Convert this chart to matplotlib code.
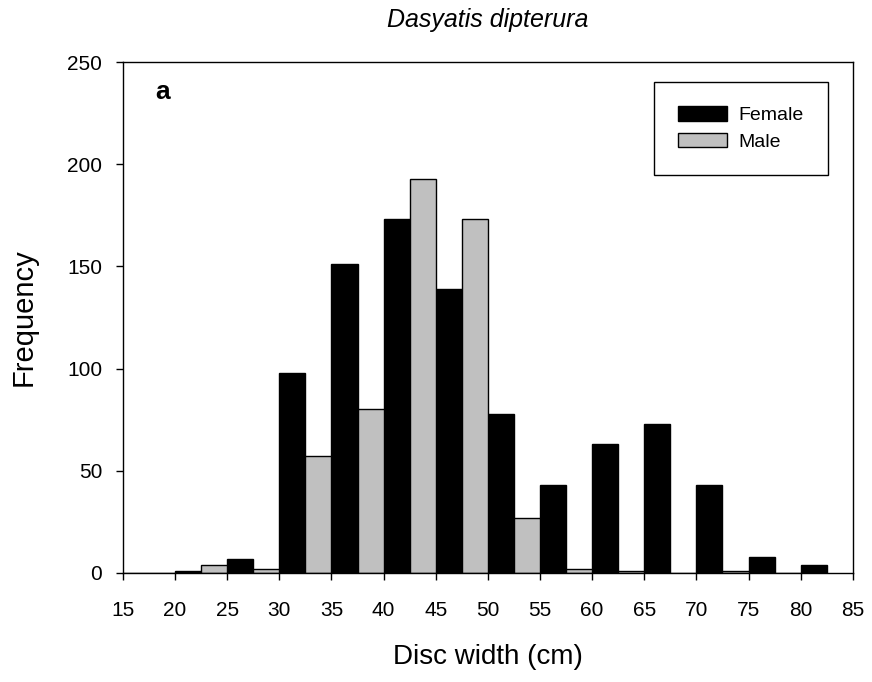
import matplotlib.pyplot as plt
import numpy as np

plt.rcParams['font.family'] = ['Liberation Sans', 'DejaVu Sans']

# bin starts (cm) and counts
female_x = [15, 20, 25, 30, 35, 40, 45, 50, 55, 60, 65, 70, 75, 80]
female_n = [0, 1, 7, 98, 151, 173, 139, 78, 43, 63, 73, 43, 8, 4]
male_x = [17.5, 22.5, 27.5, 32.5, 37.5, 42.5, 47.5, 52.5, 57.5, 62.5, 67.5, 72.5, 77.5]
male_n = [0, 4, 2, 57, 80, 193, 173, 27, 2, 1, 0, 1, 0]

xticks = list(range(15, 90, 5))
yticks = [0, 50, 100, 150, 200, 250]

fig = plt.figure(figsize=(8.72, 6.82), dpi=100)
ax = fig.add_axes([0.141, 0.160, 0.837, 0.749])

ax.bar(female_x, female_n, width=2.5, align='edge', color='black',
       edgecolor='black', linewidth=1, label='Female')
ax.bar(male_x, male_n, width=2.5, align='edge', color='#c0c0c0',
       edgecolor='black', linewidth=1, label='Male')

ax.set_xlim(15, 85)
ax.set_ylim(0, 250)
ax.set_xticks(xticks)
ax.set_yticks(yticks)
ax.tick_params(direction='out', length=5, width=1, labelsize=15, top=False, right=False)
ax.tick_params(axis='x', pad=15)
ax.tick_params(axis='y', pad=10)
for s in ax.spines.values():
    s.set_linewidth(1)

ax.set_xlabel('Disc width (cm)', fontsize=20, va='center')
ax.set_ylabel('Frequency', fontsize=21, va='center')
ax.xaxis.set_label_coords(0.5, -0.164)
ax.yaxis.set_label_coords(-0.136, 0.5)
ax.text(0.5, 1.082, 'Dasyatis dipterura', transform=ax.transAxes, fontsize=18,
        style='italic', ha='center', va='center')
ax.text(0.044, 0.965, 'a', transform=ax.transAxes, fontsize=19, fontweight='bold',
        va='top', family='Liberation Sans')

leg = ax.legend(loc='upper right', bbox_to_anchor=(0.966, 0.961), fontsize=14,
                frameon=True, fancybox=False, edgecolor='black', framealpha=1,
                handlelength=2.5, handleheight=0.75, handletextpad=0.6,
                borderpad=1.25, labelspacing=0.45, borderaxespad=0)
leg.get_frame().set_linewidth(1)

fig.savefig('out.png', dpi=100)
